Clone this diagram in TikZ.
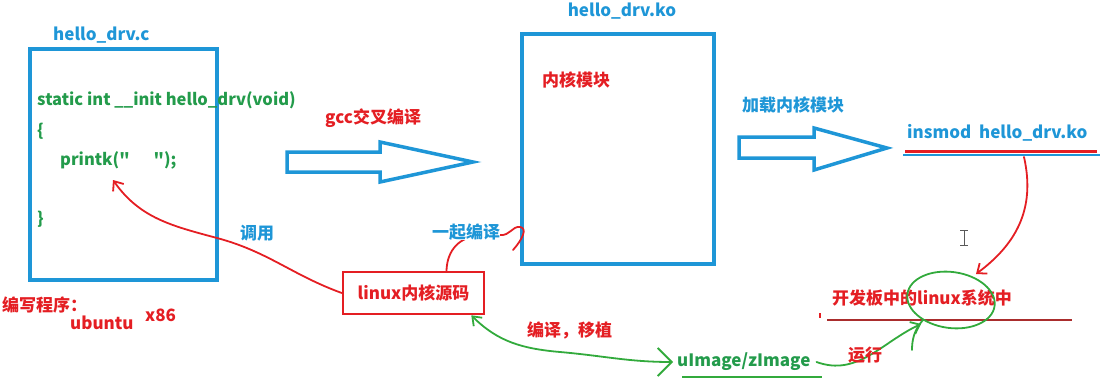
\documentclass[tikz,border=0pt]{standalone}
\usepackage{fontspec}
\setmainfont{Noto Sans CJK SC}
\usetikzlibrary{arrows.meta}

\definecolor{penblue}{RGB}{30,150,215}
\definecolor{inkred}{RGB}{228,30,35}
\definecolor{inkgreen}{RGB}{35,155,75}
\definecolor{pengreen}{RGB}{50,170,60}
\definecolor{rulered}{RGB}{170,45,45}

\tikzset{
  hand/.style={line width=1.8pt, line cap=round, line join=round},
  redpen/.style={hand, draw=inkred},
  greenpen/.style={hand, draw=pengreen},
  barb/.style={-{Straight Barb[length=8pt,width=13pt,line width=1.8pt]}},
  txt/.style={font=\bfseries\fontsize{17}{19}\selectfont, inner sep=0pt, anchor=west},
  bluetxt/.style={txt, text=penblue},
  redtxt/.style={txt, text=inkred},
  codeline/.style={txt, text=inkgreen, font=\bfseries\fontsize{16.5}{18}\selectfont},
  filebox/.style={draw=penblue, line width=3.5pt, anchor=north west, inner sep=0pt},
  srcbox/.style={draw=inkred, line width=2.5pt, minimum width=141pt, minimum height=42pt,
    inner sep=0pt, text=inkred, font=\bfseries\fontsize{17}{19}\selectfont},
  hollow/.style={draw=penblue, line width=3.5pt, line join=miter}
}

\begin{document}
\begin{tikzpicture}[x=1pt, y=-1pt]
\useasboundingbox (0,0) rectangle (1104,388);

% hello_drv.c
\node[filebox, minimum width=187pt, minimum height=231pt] (cfile) at (28,47) {};
\node[bluetxt] (cname) at (53,35) {hello\_drv.c};
\node[codeline] (sig) at (37,100) {static int \_\_init hello\_drv(void)};
\node[codeline] (lbrace) at (37,131) {\{};
\node[codeline] (printk) at (60,160) {printk(\textquotedbl\hspace{24pt}\textquotedbl);};
\node[codeline] (rbrace) at (37,219) {\}};
\coordinate (callpt) at (113,180);

\node[redtxt] (write) at (2,305) {编写程序：};
\node[redtxt] (ubuntu) at (70,323) {ubuntu};
\node[redtxt] (arch) at (145,315) {x86};

% hello_drv.ko
\node[filebox, minimum width=192pt, minimum height=230pt] (kofile) at (520,32) {};
\node[bluetxt, anchor=center] (koname) at (622,11) {hello\_drv.ko};
\node[redtxt] (komod) at (542,80) {内核模块};

% gcc
\draw[hollow] (287,152) -- ++(93,0) -- ++(0,-10) -- ++(93,20) -- ++(-93,20) -- ++(0,-10) -- ++(-93,0) -- cycle;
\node[redtxt] (gcc) at (325,118) {gcc交叉编译};

% insmod
\draw[hollow] (739,137) -- ++(75,0) -- ++(0,-9) -- ++(73,20) -- ++(-73,22) -- ++(0,-12) -- ++(-75,0) -- cycle;
\node[bluetxt] (load) at (742,105) {加载内核模块};
\node[bluetxt] (insmod) at (907,133) {insmod\ \ hello\_drv.ko};
\draw[inkred, line width=3pt] (905,151) -- (1097,151);
\draw[penblue, line width=2pt] (903,154.5) -- (1100,154.5);
\coordinate (loadpt) at (1024,157);

% board
\node[redtxt] (board) at (832,298) {开发板中的linux系统中};
\draw[rulered, line width=2pt] (827,320) -- (1072,320);
\draw[inkred, line width=2pt] (820,313) -- (820,318);
\coordinate (ring) at (951,300);
\draw[greenpen, rotate around={-8:(ring)}] (ring) ellipse [x radius=44, y radius=28];
\draw[greenpen] (923,320) .. controls (914,330) and (912,340) .. (912,350);
\draw[gray!70!black, line width=1pt] (960,230) -- (968,230) (964,230) -- (964,245) (960,245) -- (968,245);
\draw[redpen, barb] (loadpt) .. controls (1036,210) and (1015,245) .. (976,274);

% kernel source
\node[srcbox] (ksrc) at (413.5,293) {linux内核源码};
\coordinate (hook) at (513,250);
\draw[redpen, barb] (ksrc.west) to[out=160,in=-15] (217,238) to[out=165,in=-55] (callpt);
\node[bluetxt] (calltxt) at (240,233) {调用};
\draw[redpen] ([xshift=33pt]ksrc.north) .. controls (447,250) and (460,236) .. (480,236)
  -- (500,235) .. controls (510,236) and (512,226) .. (520,227) .. controls (528,228) and (522,240) .. (hook);
\node[bluetxt, fill=white] (together) at (432,232) {一起编译};

% uImage
\node[txt, text=inkgreen] (uimg) at (677,362) {uImage/zImage};
\draw[pengreen, line width=2pt] (682,377) -- (822,377);
\draw[greenpen, {Straight Barb[length=8pt,width=12pt,line width=1.8pt]}-{Straight Barb[length=14pt,width=28pt,line width=1.8pt]}]
  ([xshift=-14pt]ksrc.south east) to[out=-45,in=175] (560,352) to[out=-5,in=180] ([xshift=-4pt]uimg.west);
\node[redtxt] (port) at (527,330) {编译，移植};
\draw[greenpen, barb] ([xshift=6pt]uimg.east) to[out=-20,in=205] (921,324);
\node[redtxt] (run) at (848,355) {运行};
\end{tikzpicture}
\end{document}
